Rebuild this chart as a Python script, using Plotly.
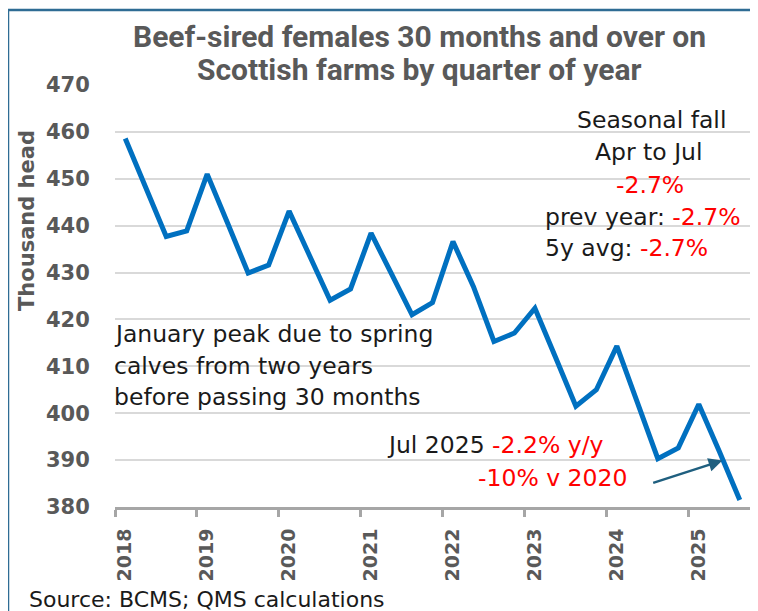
import plotly.graph_objects as go

quarters = [f"{m} {y}" for y in range(2018, 2026) for m in ["Jan", "Apr", "Jul", "Oct"]][:31]
values = [458.6, 448.0, 437.7, 438.9,
          451.0, 440.5, 429.9, 431.6,
          443.1, 433.6, 424.1, 426.5,
          438.4, 429.7, 421.0, 423.6,
          436.6, 427.0, 415.3, 417.1,
          422.4, 412.0, 401.5, 405.0,
          414.3, 402.3, 390.3, 392.6,
          401.9, 391.9, 381.5]
year_labels = ["2018", "2019", "2020", "2021", "2022", "2023", "2024", "2025"]
y_ticks = [380, 390, 400, 410, 420, 430, 440, 450, 460, 470]

xs = list(range(len(quarters)))
year_pos = [quarters.index("Jan " + y) for y in year_labels]
bound_pos = [p - 0.5 for p in year_pos]

OFF = 8  # page body margin
W, H = 758 - OFF, 611 - OFF
ML, MR, MT, MB = 115 - OFF, 8, 85 - OFF, 104
PW, PH = W - ML - MR, H - MT - MB

def px(sx):
    return (sx - OFF - ML) / PW

def py(sy):
    return (H - MB - (sy - OFF)) / PH

BODY = "DejaVu Sans, sans-serif"
TICKF = "DejaVu Sans, sans-serif"
TITLEF = "Roboto, sans-serif"
GRAY = "#595959"
RED = "#FF0000"
TXT = "#1a1a1a"

fig = go.Figure()
fig.add_trace(go.Scatter(x=xs, y=values, mode="lines", text=quarters,
                         line=dict(color="#0070C0", width=5), hoverinfo="text+y",
                         showlegend=False))
fig.add_trace(go.Scatter(x=xs, y=values, mode="lines", xaxis="x2",
                         line=dict(color="rgba(0,0,0,0)", width=0), hoverinfo="skip",
                         showlegend=False))

fig.update_layout(
    width=W, height=H,
    margin=dict(l=ML, r=MR, t=MT, b=MB),
    paper_bgcolor="white", plot_bgcolor="white",
    xaxis=dict(range=[-0.5, len(xs) - 0.5], tickvals=year_pos, ticktext=year_labels,
               tickangle=-90, ticks="outside", ticklen=8, tickcolor="rgba(0,0,0,0)",
               ticklabelstandoff=5,
               tickfont=dict(family=TICKF, size=19, color=GRAY, weight="bold"),
               showgrid=False, zeroline=False, showline=False),
    xaxis2=dict(range=[-0.5, len(xs) - 0.5], overlaying="x", side="bottom", anchor="y",
                tickvals=bound_pos, showticklabels=False, ticks="outside", ticklen=7,
                tickwidth=3, tickcolor="#A6A6A6", showline=True, linecolor="#A6A6A6",
                linewidth=3, showgrid=False, zeroline=False),
    yaxis=dict(range=[380, 470], tickvals=y_ticks, ticks="outside", ticklen=20,
               tickcolor="rgba(0,0,0,0)",
               tickfont=dict(family=TICKF, size=21, color=GRAY, weight="bold"),
               showgrid=True, gridcolor="#D9D9D9", gridwidth=2, zeroline=False,
               showline=False),
)

annos = [
    dict(text="Beef-sired females 30 months and over on", x=px(419), y=py(37),
         font=dict(family=TITLEF, size=30, color=GRAY, weight="bold")),
    dict(text="Scottish farms by quarter of year", x=px(419), y=py(70),
         font=dict(family=TITLEF, size=30, color=GRAY, weight="bold")),
    dict(text="Thousand head", x=px(27), y=py(221), textangle=-90,
         font=dict(family=TICKF, size=21, color=GRAY, weight="bold")),
    dict(text="Seasonal fall", x=px(651), y=py(120)),
    dict(text="Apr to Jul", x=px(649), y=py(152)),
    dict(text=f"<span style='color:{RED}'>-2.7%</span>", x=px(650), y=py(185)),
    dict(text=f"prev year: <span style='color:{RED}'>-2.7%</span>", x=px(543), y=py(217), xanchor="left"),
    dict(text=f"5y avg: <span style='color:{RED}'>-2.7%</span>", x=px(543), y=py(248), xanchor="left"),
    dict(text="January peak due to spring", x=px(112), y=py(334), xanchor="left"),
    dict(text="calves from two years", x=px(112), y=py(366), xanchor="left"),
    dict(text="before passing 30 months", x=px(112), y=py(397), xanchor="left"),
    dict(text=f"Jul 2025 <span style='color:{RED}'>-2.2% y/y</span>", x=px(495), y=py(445)),
    dict(text=f"<span style='color:{RED}'>-10% v 2020</span>", x=px(552), y=py(478)),
    dict(text="Source: BCMS; QMS calculations", x=px(27), y=py(599), xanchor="left",
         font=dict(family=BODY, size=22, color=TXT)),
]
for a in annos:
    a.setdefault("xanchor", "center")
    a.setdefault("font", dict(family=BODY, size=23.5, color=TXT))
    fig.add_annotation(xref="paper", yref="paper", showarrow=False, yanchor="middle", **a)

# arrow pointing at latest value
fig.add_annotation(x=29.15, y=389.9, ax=25.7, ay=385.05, xref="x", yref="y",
                   axref="x", ayref="y", showarrow=True, arrowhead=2, arrowsize=1.1,
                   arrowwidth=2.5, arrowcolor="#1F5F7F", text="")

# outer frame
fig.add_shape(type="rect", xref="paper", yref="paper",
              x0=px(8), x1=px(800), y0=py(700), y1=py(10),
              line=dict(color="#2E6C94", width=2.5), fillcolor="rgba(0,0,0,0)", layer="below")

fig.write_html("out.html")
